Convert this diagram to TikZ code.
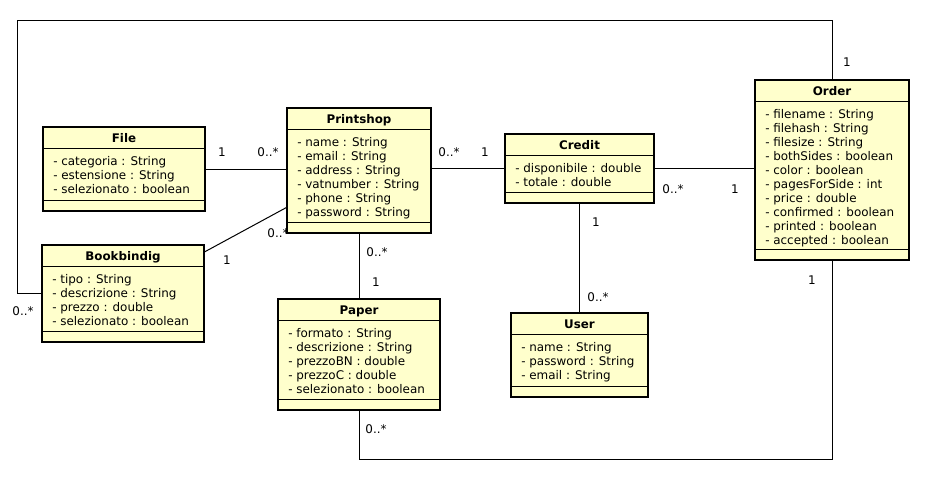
\documentclass[tikz,border=0pt]{standalone}
\usepackage{fontspec}
\setmainfont{DejaVu Sans}
\definecolor{classfill}{HTML}{FFFFCC}

\begin{document}
\begin{tikzpicture}[x=0.75pt,y=-0.75pt,
		classbox/.style={draw,line width=1.5pt,fill=classfill,anchor=north west,inner sep=0pt,outer sep=0pt},
		classname/.style={font=\fontsize{8.9}{10.5}\selectfont\bfseries,inner sep=0pt,anchor=base},
		attrlist/.style={font=\fontsize{8.95}{10.5}\selectfont,align=left,anchor=north west,inner sep=0pt},
		mult/.style={font=\fontsize{8.95}{10.5}\selectfont,inner sep=0pt},
		sep/.style={line width=0.75pt},
		assoc/.style={line width=0.75pt}]
		\useasboundingbox (0,0) rectangle (926,476);

		% multiplicities
		\node[mult] (mfile) at (222,152) {1};
		\node[mult] (mshopfile) at (268,152) {0..*};
		\node[mult] (mshopcredit) at (449,152) {0..*};
		\node[mult] (mcreditshop) at (485,152) {1};
		\node[mult] (mcreditorder) at (673,189) {0..*};
		\node[mult] (mordercredit) at (735,189) {1};
		\node[mult] (mordertop) at (847,62) {1};
		\node[mult] (mcredituser) at (596,222) {1};
		\node[mult] (musercredit) at (598,297) {0..*};
		\node[mult] (morderbottom) at (812,280) {1};
		\node[mult] (mbookorder) at (23,311) {0..*};
		\node[mult] (mbookshop) at (227,260) {1};
		\node[mult] (mshopbook) at (278,233) {0..*};
		\node[mult] (mshoppaper) at (377,252) {0..*};
		\node[mult] (mpapershop) at (376,282) {1};
		\node[mult] (mpaperorder) at (376,429) {0..*};

		% File
		\node[classbox,minimum width=121.5pt,minimum height=63pt] (file) at (43,127) {};
		\draw[sep] ([yshift=-15.75pt]file.north west) -- ([yshift=-15.75pt]file.north east);
		\draw[sep] ([yshift=8.25pt]file.south west) -- ([yshift=8.25pt]file.south east);
		\node[classname] (filetitle) at ([yshift=-11.8pt]file.north) {File};
		\node[attrlist] (fileattr) at ([xshift=7.5pt,yshift=-21.15pt]file.north west)
			{\strut- categoria : String\\- estensione : String\\- selezionato : boolean};

		% Printshop
		\node[classbox,minimum width=108pt,minimum height=93.75pt] (printshop) at (287,108) {};
		\draw[sep] ([yshift=-15.75pt]printshop.north west) -- ([yshift=-15.75pt]printshop.north east);
		\draw[sep] ([yshift=8.25pt]printshop.south west) -- ([yshift=8.25pt]printshop.south east);
		\node[classname] (printshoptitle) at ([yshift=-11.8pt]printshop.north) {Printshop};
		\node[attrlist] (printshopattr) at ([xshift=7.5pt,yshift=-21.15pt]printshop.north west)
			{\strut- name : String\\- email : String\\- address : String\\- vatnumber : String\\- phone : String\\- password : String};

		% Credit
		\node[classbox,minimum width=111.75pt,minimum height=51.75pt] (credit) at (505,134) {};
		\draw[sep] ([yshift=-15.75pt]credit.north west) -- ([yshift=-15.75pt]credit.north east);
		\draw[sep] ([yshift=8.25pt]credit.south west) -- ([yshift=8.25pt]credit.south east);
		\node[classname] (credittitle) at ([yshift=-11.8pt]credit.north) {Credit};
		\node[attrlist] (creditattr) at ([xshift=7.5pt,yshift=-21.15pt]credit.north west)
			{\strut- disponibile : double\\- totale : double};

		% Order
		\node[classbox,minimum width=115.5pt,minimum height=135pt] (order) at (755,80) {};
		\draw[sep] ([yshift=-15.75pt]order.north west) -- ([yshift=-15.75pt]order.north east);
		\draw[sep] ([yshift=8.25pt]order.south west) -- ([yshift=8.25pt]order.south east);
		\node[classname] (ordertitle) at ([yshift=-11.8pt]order.north) {Order};
		\node[attrlist] (orderattr) at ([xshift=7.5pt,yshift=-21.15pt]order.north west)
			{\strut- filename : String\\- filehash : String\\- filesize : String\\- bothSides : boolean\\- color : boolean\\- pagesForSide : int\\- price : double\\- confirmed : boolean\\- printed : boolean\\- accepted : boolean};

		% Bookbindig
		\node[classbox,minimum width=121.5pt,minimum height=72.75pt] (bookbindig) at (42,245) {};
		\draw[sep] ([yshift=-15.75pt]bookbindig.north west) -- ([yshift=-15.75pt]bookbindig.north east);
		\draw[sep] ([yshift=8.25pt]bookbindig.south west) -- ([yshift=8.25pt]bookbindig.south east);
		\node[classname] (bookbindigtitle) at ([yshift=-11.8pt]bookbindig.north) {Bookbindig};
		\node[attrlist] (bookbindigattr) at ([xshift=7.5pt,yshift=-21.15pt]bookbindig.north west)
			{\strut- tipo : String\\- descrizione : String\\- prezzo : double\\- selezionato : boolean};

		% Paper
		\node[classbox,minimum width=121.5pt,minimum height=83.25pt] (paper) at (278,299) {};
		\draw[sep] ([yshift=-15.75pt]paper.north west) -- ([yshift=-15.75pt]paper.north east);
		\draw[sep] ([yshift=8.25pt]paper.south west) -- ([yshift=8.25pt]paper.south east);
		\node[classname] (papertitle) at ([yshift=-11.8pt]paper.north) {Paper};
		\node[attrlist] (paperattr) at ([xshift=7.5pt,yshift=-21.15pt]paper.north west)
			{\strut- formato : String\\- descrizione : String\\- prezzoBN : double\\- prezzoC : double\\- selezionato : boolean};

		% User
		\node[classbox,minimum width=102.75pt,minimum height=63pt] (user) at (511,313) {};
		\draw[sep] ([yshift=-15.75pt]user.north west) -- ([yshift=-15.75pt]user.north east);
		\draw[sep] ([yshift=8.25pt]user.south west) -- ([yshift=8.25pt]user.south east);
		\node[classname] (usertitle) at ([yshift=-11.8pt]user.north) {User};
		\node[attrlist] (userattr) at ([xshift=7.5pt,yshift=-21.15pt]user.north west)
			{\strut- name : String\\- password : String\\- email : String};

		% associations
		\draw[assoc] (file.east) -- (file.east -| printshop.west);
		\draw[assoc] (credit.west -| printshop.east) -- (credit.west);
		\draw[assoc] (credit.east) -- (credit.east -| order.west);
		\draw[assoc] (credit.south) -- (user.north);
		\draw[assoc] (printshop.south) -- (paper.north);
		\draw[assoc] (bookbindig.27.7) -- (printshop.207.5);
		\draw[assoc] (bookbindig.west) -| (17,20) -| (order.north);
		\draw[assoc] (paper.south) -- ++(0,49) -| (order.south);
	\end{tikzpicture}
\end{document}
